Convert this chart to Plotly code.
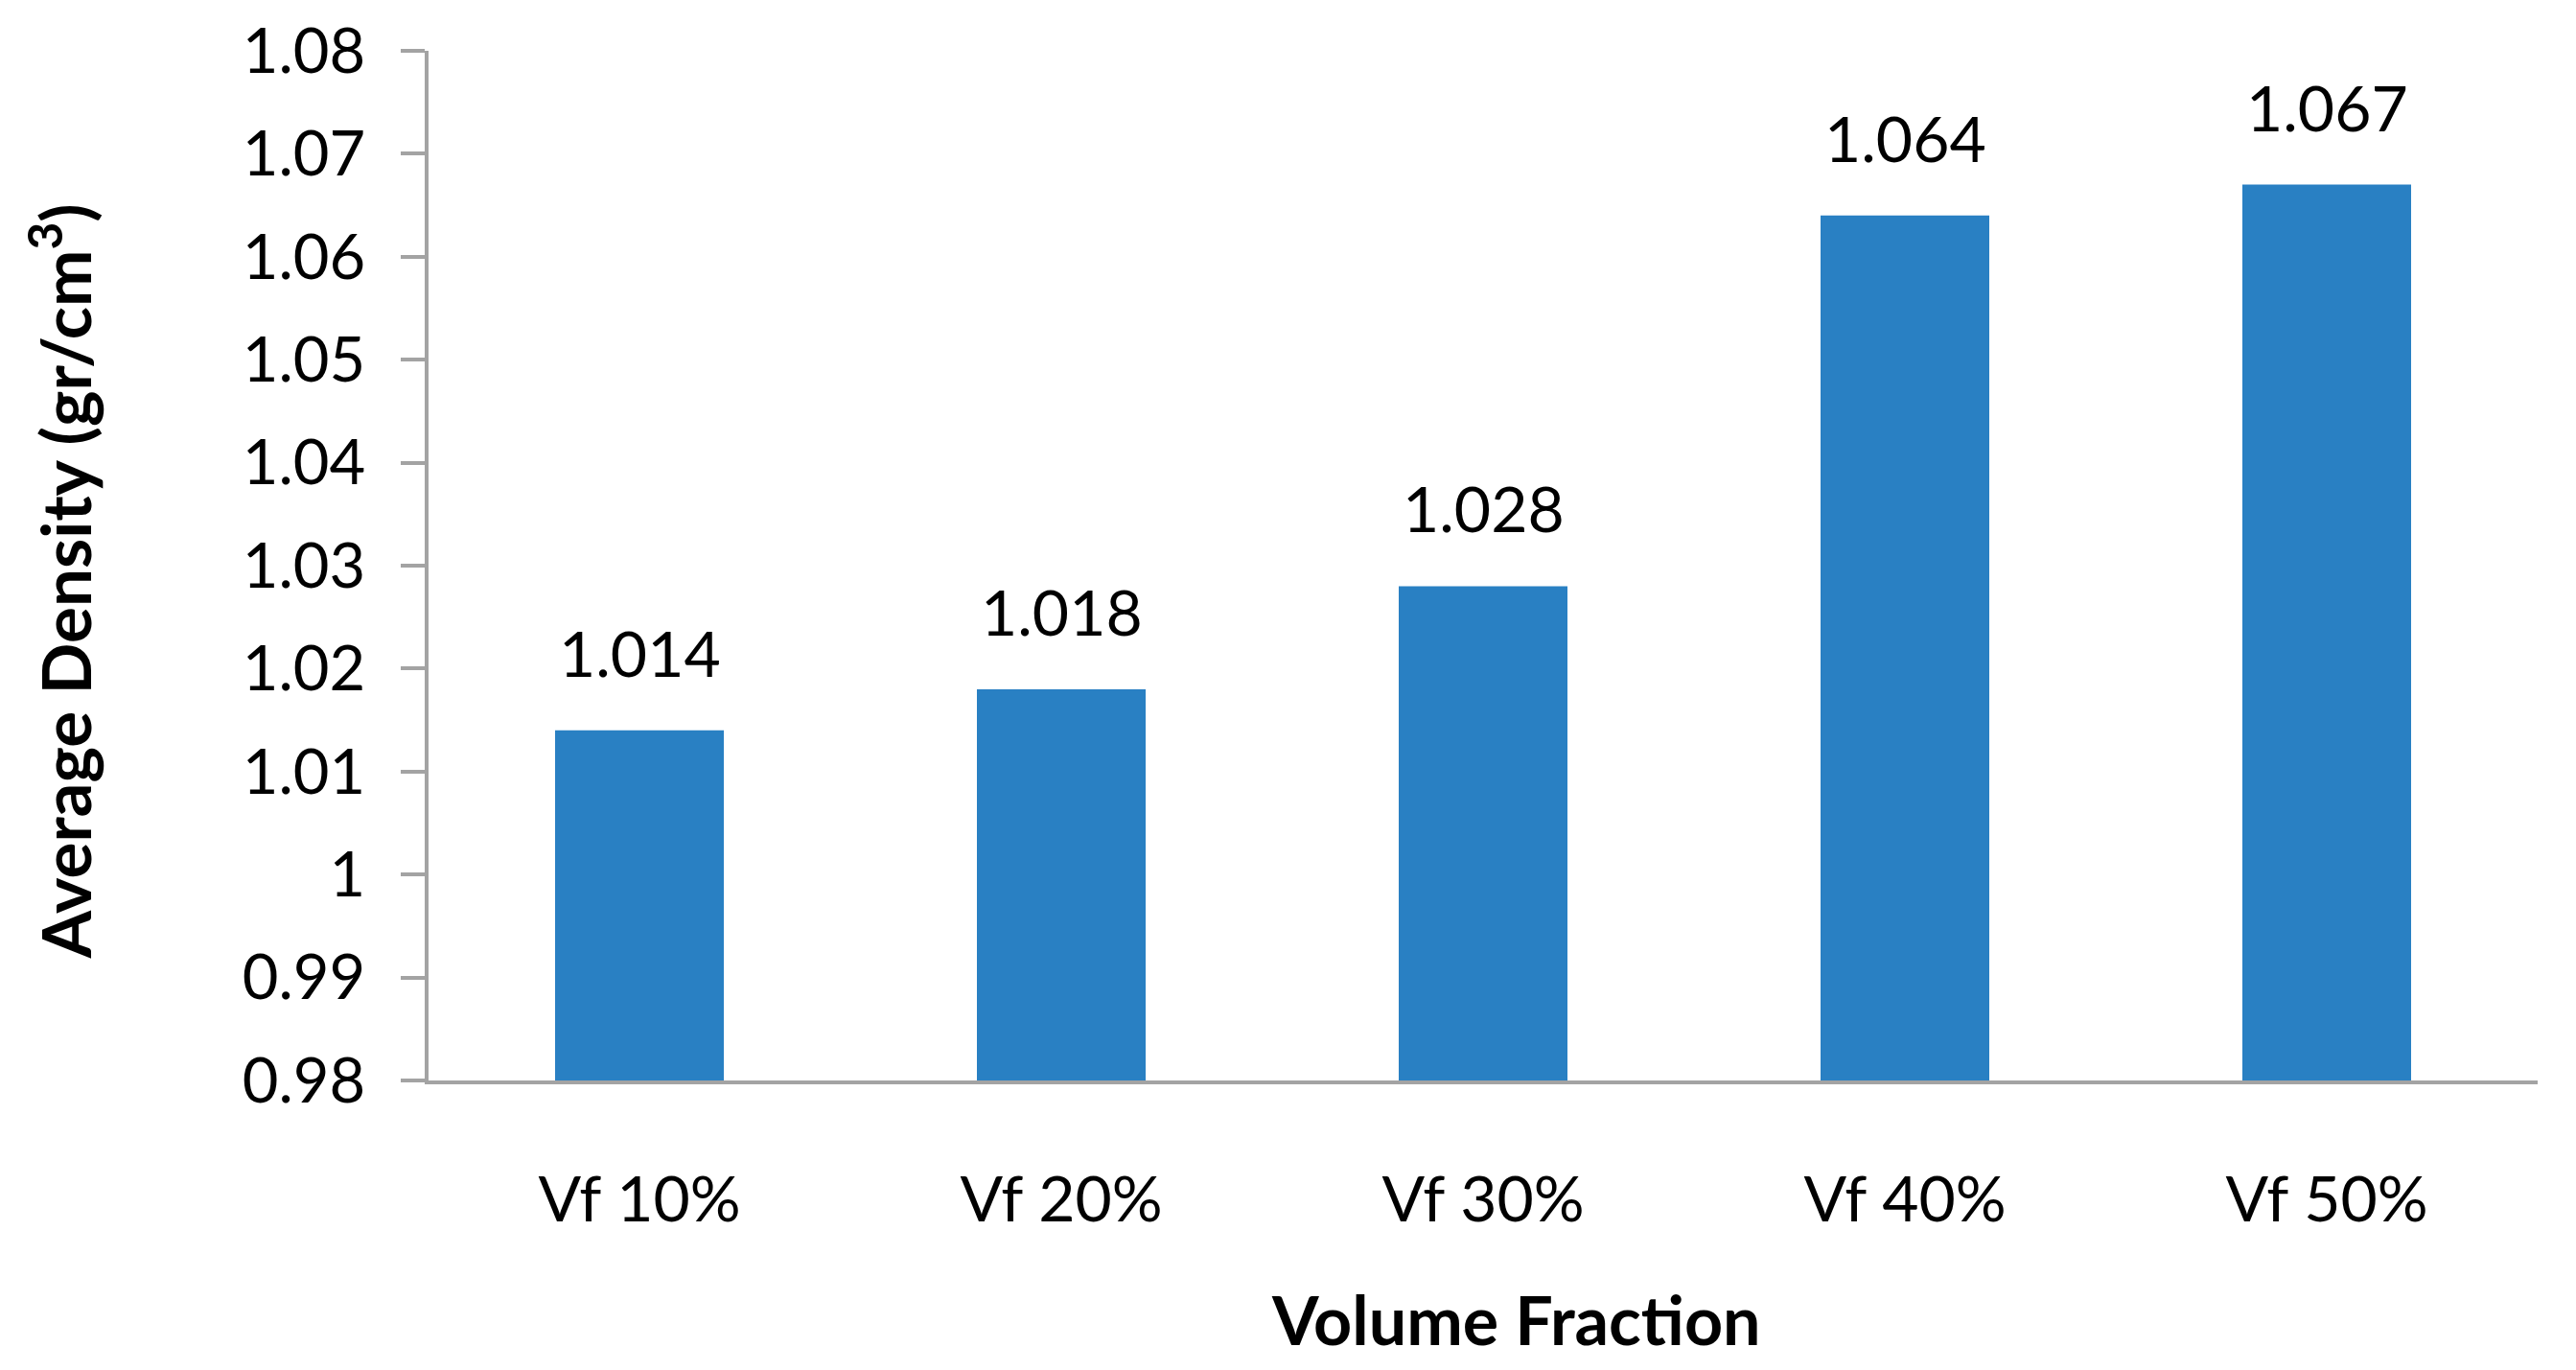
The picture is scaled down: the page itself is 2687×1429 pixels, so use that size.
import plotly.graph_objects as go

categories = ["Vf 10%", "Vf 20%", "Vf 30%", "Vf 40%", "Vf 50%"]
density = [1.014, 1.018, 1.028, 1.064, 1.067]
value_labels = ["1.014", "1.018", "1.028", "1.064", "1.067"]
y_ticks = [0.98, 0.99, 1.0, 1.01, 1.02, 1.03, 1.04, 1.05, 1.06, 1.07, 1.08]
y_tick_text = ["0.98", "0.99", "1", "1.01", "1.02", "1.03", "1.04", "1.05", "1.06", "1.07", "1.08"]
y_min, y_max = 0.98, 1.08

FONT = "Lato"
BAR_COLOR = "#2980C3"
AXIS_COLOR = "#A3A3A3"

fig = go.Figure()
fig.add_trace(go.Bar(
    x=categories, y=[v - y_min for v in density], base=y_min,
    marker=dict(color=BAR_COLOR, line=dict(width=0)),
    width=0.4, showlegend=False, hoverinfo="skip",
))

for c, v, t in zip(categories, density, value_labels):
    fig.add_annotation(x=c, y=v, text=t, showarrow=False, yanchor="bottom",
                       yshift=40, font=dict(family=FONT, size=66, color="#000000"))

# axis titles as annotations (positioned in paper coordinates)
fig.add_annotation(xref="paper", yref="paper", x=0.5155, y=-0.232,
                   text="<b>Volume Fraction</b>", showarrow=False,
                   xanchor="center", yanchor="middle",
                   font=dict(family=FONT, size=70, color="#000000"))
fig.add_annotation(xref="paper", yref="paper", x=-0.1745, y=0.485,
                   text="<b>Average Density (gr/cm<sup>3</sup>)</b>", showarrow=False,
                   textangle=-90, xanchor="center", yanchor="middle",
                   font=dict(family=FONT, size=71, color="#000000"))

fig.update_layout(
    width=2679, height=1421,
    paper_bgcolor="white", plot_bgcolor="white",
    margin=dict(l=439, r=40, t=45, b=302, autoexpand=False),
    font=dict(family=FONT, color="#000000"),
)
fig.update_xaxes(
    showline=True, linecolor=AXIS_COLOR, linewidth=3.5,
    ticks="", showgrid=False, zeroline=False,
    tickfont=dict(family=FONT, size=66, color="#000000"),
    ticklabelstandoff=64,
    automargin=False,
)
fig.update_yaxes(
    range=[y_min, y_max], tickvals=y_ticks, ticktext=y_tick_text,
    showline=True, linecolor=AXIS_COLOR, linewidth=3.5,
    ticks="outside", ticklen=25, tickwidth=3.5, tickcolor=AXIS_COLOR,
    showgrid=False, zeroline=False,
    tickfont=dict(family=FONT, size=65, color="#000000"),
    ticklabelstandoff=24,
    automargin=False,
)

fig.write_html("out.html")
